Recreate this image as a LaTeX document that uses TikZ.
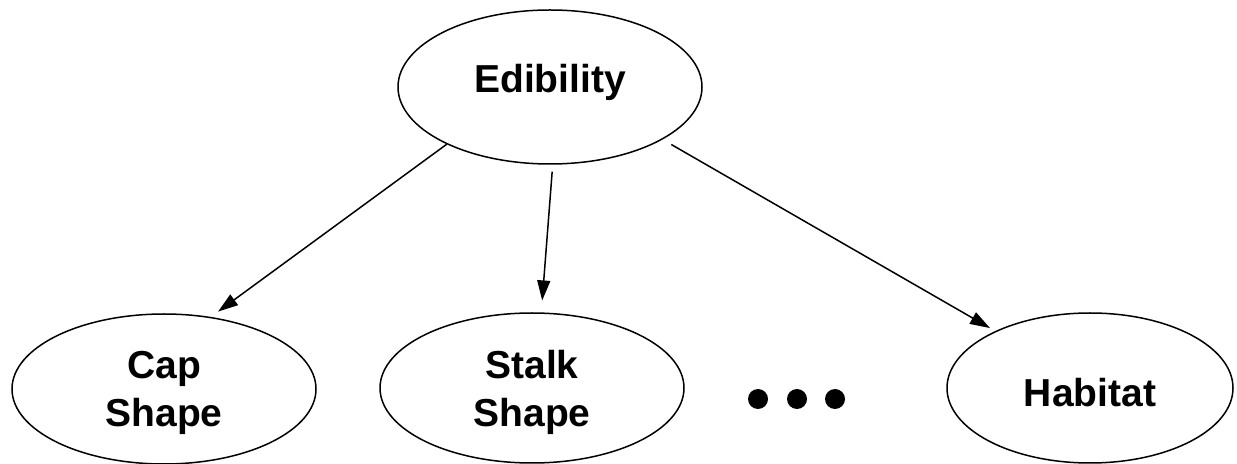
\documentclass[tikz,border=0pt]{standalone}
\usepackage{fontspec}
\setmainfont{Liberation Sans}
\usetikzlibrary{shapes.geometric,arrows.meta}
\begin{document}
\begin{tikzpicture}[x=0.5pt,y=-0.5pt,
  var/.style={ellipse,draw,line width=0.75pt,inner sep=0pt,align=center,
    font=\fontsize{19.5}{24}\selectfont\bfseries},
  conn/.style={line width=0.75pt,-{Triangle[length=10pt,width=6.5pt]}},
  dotnode/.style={circle,fill,inner sep=0pt,minimum size=10pt}]
\useasboundingbox (0,0) rectangle (1237,464);
\node[var,minimum width=152pt,minimum height=77pt,text height=10pt,text depth=4pt] (edib) at (550,87) {Edibility};
\node[var,minimum width=152pt,minimum height=75pt,text depth=0pt] (cap) at (164,389) {Cap\\Shape};
\node[var,minimum width=152pt,minimum height=75pt,text depth=0pt] (stalk) at (532,388) {Stalk\\Shape};
\node[var,minimum width=143pt,minimum height=75pt,text height=19pt,text depth=0pt] (hab) at (1090,388) {Habitat};
\node[dotnode] (d1) at (758,399) {};
\node[dotnode] (d2) at (797,399) {};
\node[dotnode] (d3) at (835,399) {};
\draw[conn,shorten >=4.5pt] (edib.209) -- (cap.57);
\draw[conn,shorten <=3.5pt,shorten >=6pt] (edib.272) -- (stalk.83);
\draw[conn,shorten <=5pt,shorten >=3pt] (edib.335.5) -- (hab.149.5);
\end{tikzpicture}
\end{document}
